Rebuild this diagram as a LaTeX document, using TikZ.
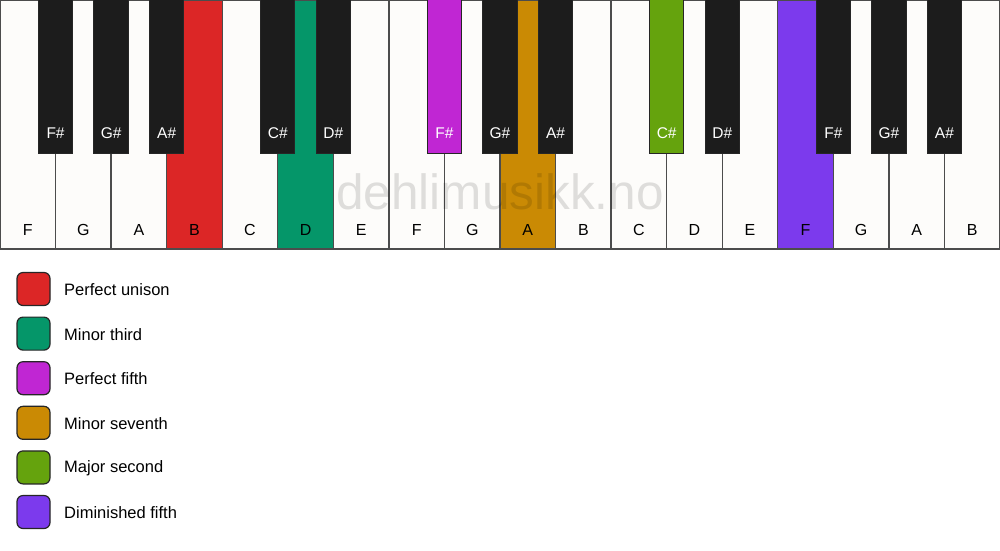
\documentclass[tikz,border=0pt]{standalone}
\usepackage{fontspec}
\setmainfont{Liberation Sans}
\begin{document}
\begin{tikzpicture}[x=1pt,y=-1pt,
  whitekey/.style={draw=black!70,line width=1.3pt,fill=keywhite},
  blackkey/.style={draw=black!85,line width=1pt,fill=keyblack},
  wlabel/.style={font=\fontsize{16}{18}\selectfont,text=black},
  blabel/.style={font=\fontsize{15.5}{18}\selectfont,text=white},
  legbox/.style={draw=black!85,line width=1.2pt,rounded corners=6pt,minimum width=33pt,minimum height=33pt,inner sep=0pt},
  legtext/.style={font=\fontsize{16.5}{18}\selectfont,anchor=west,inner sep=0pt}]
\definecolor{keywhite}{HTML}{FDFCFA}
\definecolor{keyblack}{HTML}{1C1C1C}
\definecolor{cred}{HTML}{DC2626}
\definecolor{cgreen}{HTML}{059669}
\definecolor{cmag}{HTML}{C026D3}
\definecolor{corange}{HTML}{CA8A04}
\definecolor{clime}{HTML}{65A30D}
\definecolor{cpurple}{HTML}{7C3AED}
\useasboundingbox (0,0) rectangle (1000,550);
\fill[white] (0,0) rectangle (1000,550);
\def\kw{55.5556}
% white keys
\foreach \i/\n/\c in {0/F/keywhite,1/G/keywhite,2/A/keywhite,3/B/cred,4/C/keywhite,5/D/cgreen,6/E/keywhite,7/F/keywhite,8/G/keywhite,9/A/corange,10/B/keywhite,11/C/keywhite,12/D/keywhite,13/E/keywhite,14/F/cpurple,15/G/keywhite,16/A/keywhite,17/B/keywhite}{
  \draw[whitekey,fill=\c] ({\i*\kw},0) rectangle ({(\i+1)*\kw},249);
  \node[wlabel] (w\i) at ({(\i+0.5)*\kw},230) {\n};
}
% watermark
\node[font=\fontsize{49.5}{50}\selectfont,text=black,text opacity=0.12] (wm) at (500,192) {dehlimusikk.no};
% black keys
\foreach \b/\n/\c in {1/F\#/keyblack,2/G\#/keyblack,3/A\#/keyblack,5/C\#/keyblack,6/D\#/keyblack,8/F\#/cmag,9/G\#/keyblack,10/A\#/keyblack,12/C\#/clime,13/D\#/keyblack,15/F\#/keyblack,16/G\#/keyblack,17/A\#/keyblack}{
  \draw[blackkey,fill=\c] ({\b*\kw-17.2},-1) rectangle ({\b*\kw+17.2},153);
  \node[blabel] (b\b) at ({\b*\kw},133) {\n};
}
% legend
\foreach \k/\c/\t in {0/cred/Perfect unison,1/cgreen/Minor third,2/cmag/Perfect fifth,3/corange/Minor seventh,4/clime/Major second,5/cpurple/Diminished fifth}{
  \node[legbox,fill=\c] (l\k) at (33.5,{289+\k*44.6}) {};
  \node[legtext] (t\k) at (64,{289.5+\k*44.6}) {\t};
}
\end{tikzpicture}
\end{document}
